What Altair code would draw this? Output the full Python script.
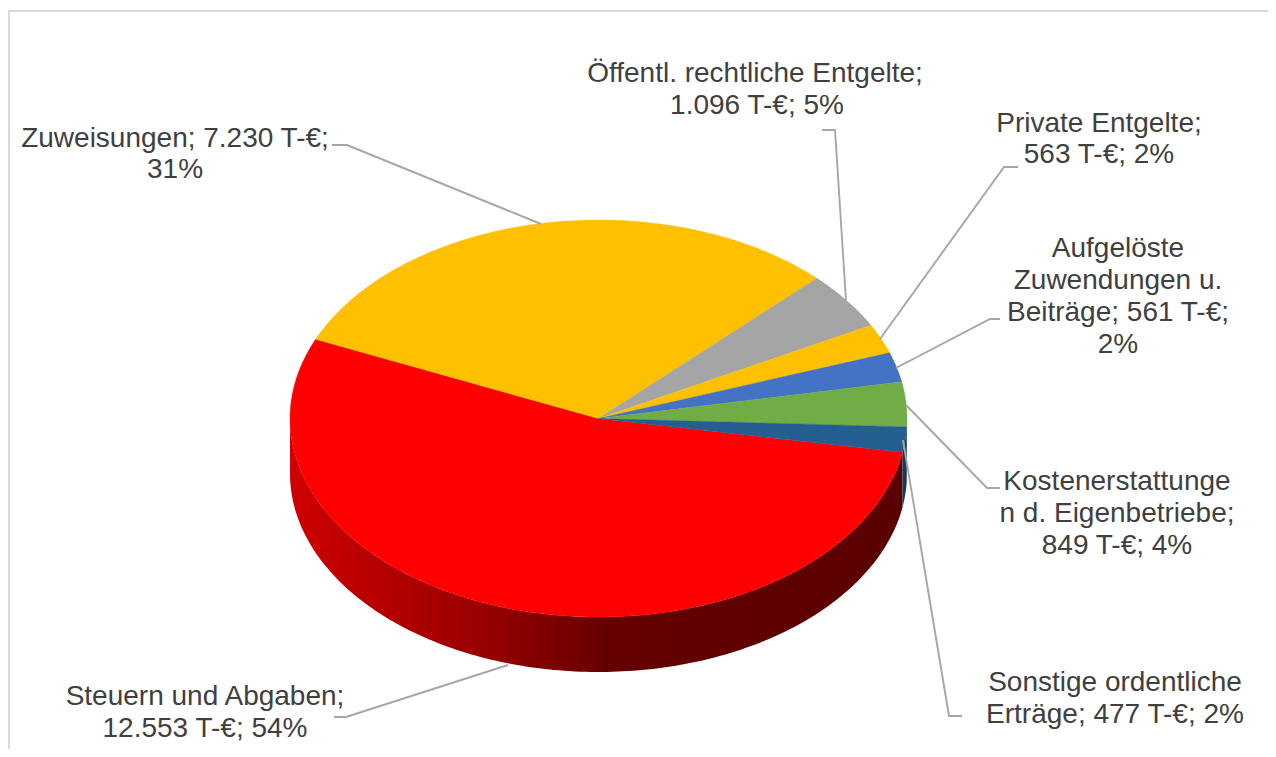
import math
import altair as alt
import pandas as pd

# Slice data (clockwise, starting at the right edge of the red slice)
names = ["Steuern und Abgaben", "Zuweisungen", "Öffentl. rechtliche Entgelte", "Private Entgelte",
         "Aufgelöste Zuwendungen u. Beiträge", "Kostenerstattungen d. Eigenbetriebe",
         "Sonstige ordentliche Erträge"]
values = [12553, 7230, 1096, 563, 561, 849, 477]
top_colors = ["#ff0000", "#ffc000", "#a5a5a5", "#ffc000", "#4472c4", "#70ad47", "#255e91"]
side_colors = ["#990000", "#997300", "#636363", "#997300", "#294579", "#43682b", "#163a5a"]
first_angle = 9.8

# Ellipse of the projected pie, in picture units
cx, cy, rx, ry, depth = 598.5, 418.5, 308.5, 198.5, 55

# Label lines: text, x, y
label_text = ["Öffentl. rechtliche Entgelte;", "1.096 T-€; 5%",
              "Private Entgelte;", "563 T-€; 2%",
              "Zuweisungen; 7.230 T-€;", "31%",
              "Aufgelöste", "Zuwendungen u.", "Beiträge; 561 T-€;", "2%",
              "Kostenerstattunge", "n d. Eigenbetriebe;", "849 T-€; 4%",
              "Sonstige ordentliche", "Erträge; 477 T-€; 2%",
              "Steuern und Abgaben;", "12.553 T-€; 54%"]
label_x = [755, 757, 1099, 1099, 175, 175, 1118, 1118, 1118, 1118, 1117, 1117, 1117, 1115, 1115, 205, 205]
label_y = [73.5, 105.5, 123.5, 154.5, 138.5, 169.5, 248.5, 280.5, 312.5, 344.5, 481.5, 513.5, 545.5, 682.5, 714.5, 696.5, 728.5]

# Leader lines
leaders = {
    "Zuweisungen": [(332, 145), (347, 145), (541, 224)],
    "Oeffentl": [(822, 130), (835, 130), (846, 300)],
    "Private": [(1018, 167), (1004, 167), (880, 339)],
    "Aufgeloeste": [(1000, 319), (990, 319), (896, 368)],
    "Kosten": [(1000, 488), (987, 488), (906, 405)],
    "Sonstige": [(962, 716), (949, 716), (903, 440)],
    "Steuern": [(334, 717), (346, 717), (508, 665)],
}
frame = [(8, 11), (1268, 11)], [(9, 10), (9, 749)]

W, H = 1260, 741
X = alt.X("x:Q", axis=None, scale=alt.Scale(domain=[8, 8 + W], nice=False, zero=False))
Y = alt.Y("y:Q", axis=None, scale=alt.Scale(domain=[8 + H, 8], nice=False, zero=False))

total = sum(values)
spans = []
a = first_angle
for v in values:
    b = a + v / total * 360
    spans.append((a, b))
    a = b


def pt(deg):
    t = math.radians(deg)
    return cx + rx * math.cos(t), cy + ry * math.sin(t)


def arc(a0, a1):
    n = max(2, int(abs(a1 - a0)) + 2)
    return [a0 + (a1 - a0) * i / (n - 1) for i in range(n)]


layers = []

# Side walls: visible for the lower half of the ellipse
red_gradient = alt.Gradient(
    gradient="linear", x1=0, x2=1, y1=0, y2=0,
    stops=[alt.GradientStop(color="#cf0000", offset=0),
           alt.GradientStop(color="#960000", offset=0.33),
           alt.GradientStop(color="#650000", offset=0.52),
           alt.GradientStop(color="#5a0000", offset=1)])
for i, (a0, b0) in enumerate(spans):
    walls = []
    for lo, hi in ((a0, b0), (a0 - 360, b0 - 360)):
        lo2, hi2 = max(lo, 0), min(hi, 180)
        if hi2 > lo2:
            walls.append((lo2, hi2))
    for lo2, hi2 in walls:
        rows = []
        for k, d in enumerate(arc(lo2, hi2)):
            px, py = pt(d)
            rows.append({"x": px, "y": py, "y2": py + depth})
        color = red_gradient if i == 0 else side_colors[i]
        layers.append(alt.Chart(pd.DataFrame(rows)).mark_area(color=color).encode(x=X, y=Y, y2="y2:Q"))

# Top faces
for i, (a0, b0) in enumerate(spans):
    rows = [{"x": cx, "y": cy, "o": 0}]
    for k, d in enumerate(arc(a0, b0)):
        px, py = pt(d)
        rows.append({"x": px, "y": py, "o": k + 1})
    rows.append({"x": cx, "y": cy, "o": len(rows)})
    layers.append(alt.Chart(pd.DataFrame(rows)).mark_line(
        fill=top_colors[i], stroke=top_colors[i], strokeWidth=0.4
    ).encode(x=X, y=Y, order="o:Q"))

# Leader lines
for key, pts in leaders.items():
    df = pd.DataFrame([{"x": p[0], "y": p[1], "o": j} for j, p in enumerate(pts)])
    layers.append(alt.Chart(df).mark_line(color="#a6a6a6", strokeWidth=1.9).encode(x=X, y=Y, order="o:Q"))

# Frame
for pts in frame:
    df = pd.DataFrame([{"x": p[0], "y": p[1], "o": j} for j, p in enumerate(pts)])
    layers.append(alt.Chart(df).mark_line(color="#d9d9d9", strokeWidth=2).encode(x=X, y=Y, order="o:Q"))

# Labels
labels = pd.DataFrame({"t": label_text, "x": label_x, "y": label_y})
layers.append(alt.Chart(labels).mark_text(
    font="Liberation Sans", fontSize=28, color="#404040", align="center", baseline="middle"
).encode(x=X, y=Y, text="t:N"))

chart = alt.layer(*layers).properties(
    width=W, height=H, padding=0, autosize=alt.AutoSizeParams(type="none"), background="white"
).configure_view(stroke=None)

chart.save("out.html", embed_options={"renderer": "svg", "actions": False})
